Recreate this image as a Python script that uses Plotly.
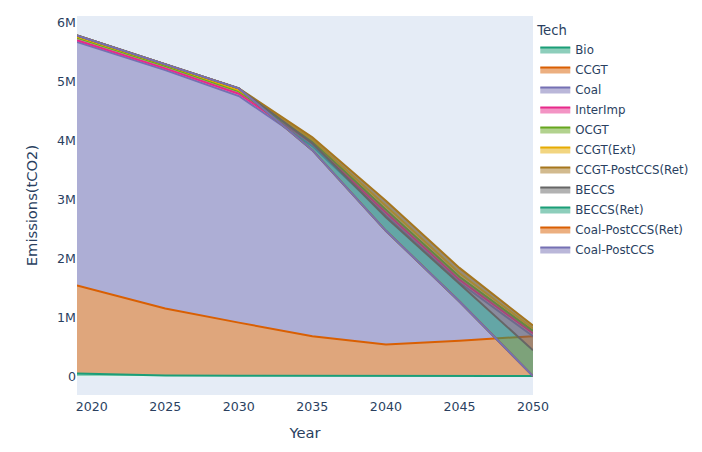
import pandas as pd
import plotly.express as px

# Emissions by technology (tCO2)
years = [2019, 2025, 2030, 2035, 2040, 2045, 2050]
techs = ['Bio', 'CCGT', 'Coal', 'InterImp', 'OCGT', 'CCGT(Ext)', 'CCGT-PostCCS(Ret)',
         'BECCS', 'BECCS(Ret)', 'Coal-PostCCS(Ret)', 'Coal-PostCCS']

bio = [45000, 12000, 8000, 6000, 5000, 4000, 3000]
ccgt = [1495000, 1138000, 902000, 674000, 535000, 596000, 677000]
coal = [4140000, 4050000, 3850000, 3230000, 2190000, 990000, 0]
interimp = [30000, 30000, 40000, 40000, 50000, 50000, 50000]
ocgt = [40000, 40000, 40000, 40000, 50000, 50000, 40000]
ccgt_ext = [20000, 20000, 20000, 30000, 60000, 60000, 40000]
ccgt_postccs_ret = [20000, 10000, 30000, 40000, 90000, 90000, 50000]
beccs = [0, 0, 0, -100000, -280000, -270000, -420000]
beccs_ret = [0, 0, 0, -120000, -230000, -300000, -440000]
coal_postccs_ret = [0, 0, 0, 0, 0, 0, 0]
coal_postccs = [0, 0, 0, 0, 0, 0, 0]

series = [bio, ccgt, coal, interimp, ocgt, ccgt_ext, ccgt_postccs_ret,
          beccs, beccs_ret, coal_postccs_ret, coal_postccs]

# long format table for plotly express
rows = []
for tech, vals in zip(techs, series):
    for yr, v in zip(years, vals):
        rows.append({'Year': yr, 'Tech': tech, 'Emissions(tCO2)': v})
df = pd.DataFrame(rows)

fig = px.area(df, x='Year', y='Emissions(tCO2)', color='Tech',
              color_discrete_sequence=px.colors.qualitative.Dark2)

# fixed margins so the plot area sits where it does in the reference
fig.update_layout(
    width=686, height=436,
    font=dict(family='Verdana, DejaVu Sans', size=12.6),
    margin=dict(l=69, r=161, t=8, b=49, autoexpand=False),
    legend=dict(title=dict(text='Tech', font=dict(size=13.2)),
                font=dict(size=11.8), x=1.005, y=0.995, yanchor='top',
                traceorder='grouped', tracegroupgap=1.0),
)
fig.update_xaxes(showgrid=False, ticklabelstandoff=2, title_font_size=14.7)
fig.update_yaxes(showgrid=False, range=[-320000, 6120000], title_font_size=14.7)

fig.write_html("out.html")
